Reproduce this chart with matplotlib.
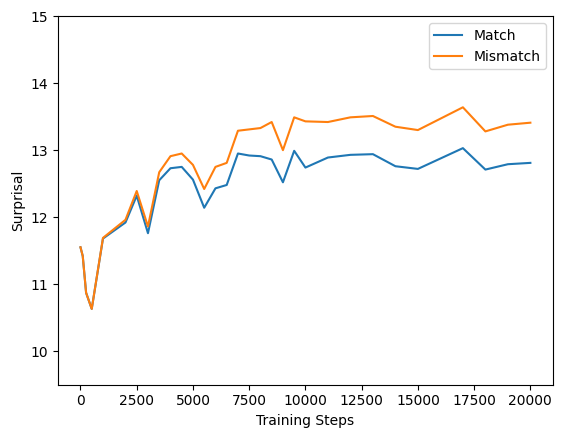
import matplotlib
matplotlib.use("Agg")
import matplotlib.pyplot as plt

steps = [0, 100, 250, 500, 1000, 2000, 2500, 3000, 3500, 4000, 4500, 5000, 5500,
         6000, 6500, 7000, 7500, 8000, 8500, 9000, 9500, 10000, 11000, 12000,
         13000, 14000, 15000, 17000, 18000, 19000, 20000]
match = [11.55, 11.42, 10.87, 10.63, 11.68, 11.92, 12.32, 11.76, 12.55, 12.73,
         12.75, 12.56, 12.14, 12.43, 12.48, 12.95, 12.92, 12.91, 12.86, 12.52,
         12.99, 12.74, 12.89, 12.93, 12.94, 12.76, 12.72, 13.03, 12.71, 12.79, 12.81]
mismatch = [11.55, 11.42, 10.87, 10.63, 11.69, 11.96, 12.39, 11.86, 12.67, 12.91,
            12.95, 12.78, 12.42, 12.75, 12.81, 13.29, 13.31, 13.33, 13.42, 13.00,
            13.49, 13.43, 13.42, 13.49, 13.51, 13.35, 13.30, 13.64, 13.28, 13.38, 13.41]

fig = plt.figure(figsize=(5.63, 4.38), dpi=100)
ax = fig.add_axes([0.103, 0.122, 0.879, 0.841])

ax.plot(steps, match, label="Match")
ax.plot(steps, mismatch, label="Mismatch")

ax.set_ylim(9.5, 15)
ax.set_xlabel("Training Steps")
ax.set_ylabel("Surprisal")
ax.legend(loc="upper right")

fig.savefig("out.png", dpi=100)
plt.close(fig)
